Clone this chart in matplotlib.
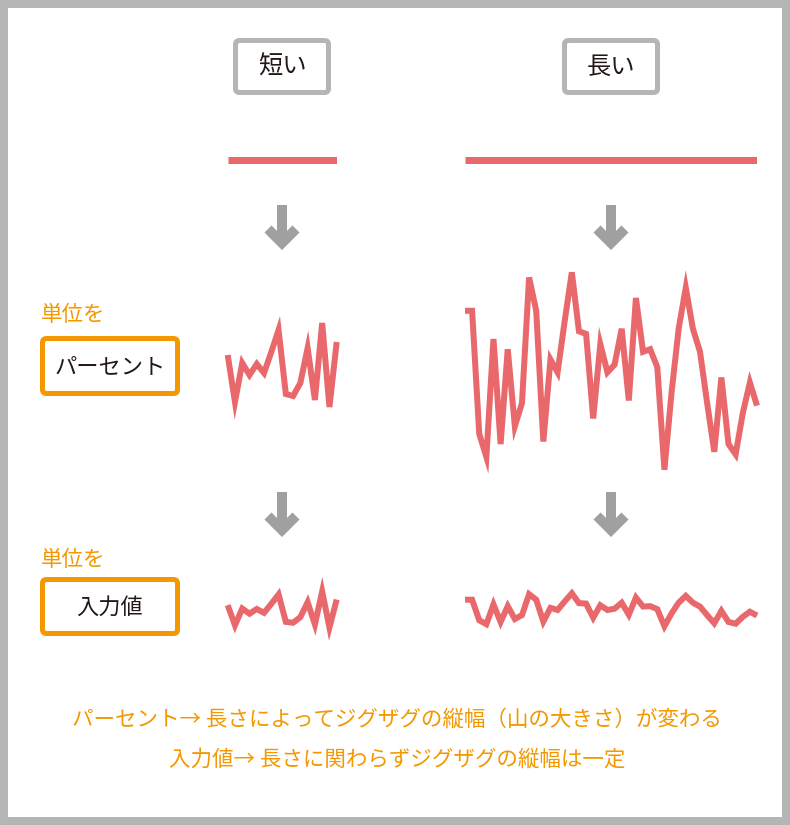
import matplotlib
matplotlib.use("Agg")
import matplotlib.pyplot as plt
from matplotlib.patches import FancyBboxPatch, Rectangle

plt.rcParams['font.family'] = ['Noto Sans CJK JP', 'DejaVu Sans']

# ---------------- data ----------------
column_titles = ["短い", "長い"]
row_unit_caption = "単位を"
row_labels = ["パーセント", "入力値"]
note_lines = ["パーセント→ 長さによってジグザグの縦幅（山の大きさ）が変わる",
              "入力値→ 長さに関わらずジグザグの縦幅は一定"]

# input values (common units) of the short and the long series
short_values = [65, 18, 57, 45, 56, 47, 68, 90, 26, 24, 37, 72, 20, 97, 13, 78]
long_values = [66, 66, 18, 9, 55, 14, 51, 21, 30, 79, 66, 15, 47, 42, 62, 81,
               58, 57, 24, 53, 42, 45, 59, 31, 71, 50, 51, 44, 4, 34, 59, 75,
               59, 50, 30, 11, 40, 14, 10, 26, 38, 29]

# ---------------- style / layout ----------------
W, H = 790, 825
RED = '#e8686c'
ORANGE = '#f39800'
GRAY_BORDER = '#b5b5b6'
GRAY_ARROW = '#a0a0a0'
TEXT = '#231815'
px = 72.0 / 100.0  # points per pixel

fig = plt.figure(figsize=(W / 100, H / 100), dpi=100)
fig.patch.set_facecolor('white')

overlay = fig.add_axes([0, 0, 1, 1])
overlay.set_xlim(0, W)
overlay.set_ylim(H, 0)
overlay.axis('off')

# outer border
overlay.add_patch(Rectangle((4, 4), W - 8, H - 8, fill=False,
                            edgecolor=GRAY_BORDER, lw=8 * px, joinstyle='miter'))


def box(x0, y0, x1, y1, color, lw_px=5):
    overlay.add_patch(FancyBboxPatch((x0, y0), x1 - x0, y1 - y0,
                                     boxstyle="round,pad=0,rounding_size=4",
                                     fill=True, facecolor='white',
                                     edgecolor=color, lw=lw_px * px))


def arrow(cx, ytop):
    overlay.plot([cx, cx], [ytop, ytop + 37], color=GRAY_ARROW,
                 lw=10 * px, solid_capstyle='butt')
    overlay.plot([cx - 14, cx, cx + 14], [ytop + 24, ytop + 38, ytop + 24],
                 color=GRAY_ARROW, lw=10 * px, solid_joinstyle='miter',
                 solid_capstyle='butt')


# column geometry (pixel extents of each series)
columns = [
    dict(values=short_values, x0=227.7, x1=336.7, cx=282,
         pct=(420.0, 1.0), inp=(633.0, 0.4286)),
    dict(values=long_values, x0=465.0, x1=757.0, cx=611,
         pct=(480.0, 2.564), inp=(628.0, 0.4286)),
]

for title, col in zip(column_titles, columns):
    cx = col['cx']
    # title box
    box(cx - 46.5, 40.5, cx + 46.5, 92.5, GRAY_BORDER)
    overlay.text(cx, 67, title, ha='center', va='center', fontsize=17.5,
                 color=TEXT)
    n = len(col['values'])
    idx = list(range(n))
    # length bar (drawn in the series' own x scale)
    bar_ax = fig.add_axes([col['x0'] / W, 0, (col['x1'] - col['x0']) / W, 1])
    bar_ax.set_xlim(0, n - 1)
    bar_ax.set_ylim(H, 0)
    bar_ax.axis('off')
    bar_ax.plot([0, n - 1], [159.5, 159.5], color=RED, lw=7 * px,
                solid_capstyle='butt')
    arrow(cx, 205)
    arrow(cx, 492)
    # zigzag rows
    for offset, scale in (col['pct'], col['inp']):
        ax = fig.add_axes([col['x0'] / W, 0, (col['x1'] - col['x0']) / W, 1])
        ax.set_xlim(0, n - 1)
        ax.set_ylim((offset - H) / scale, offset / scale)
        ax.axis('off')
        ax.patch.set_alpha(0)
        ax.plot(idx, col['values'], color=RED, lw=6 * px,
                solid_joinstyle='miter', solid_capstyle='butt', clip_on=False)

# row labels
for label, (ycap, y0, y1) in zip(row_labels, [(315, 338.5, 393.5), (560, 579.5, 633.5)]):
    overlay.text(41, ycap, row_unit_caption, ha='left', va='center',
                 fontsize=15.5, color=ORANGE)
    box(42.5, y0, 177.5, y1, ORANGE)
    overlay.text(110, (y0 + y1) / 2 + 1, label, ha='center', va='center',
                 fontsize=16, color=TEXT)

# notes
for line, y in zip(note_lines, [720, 760]):
    overlay.text(397, y, line, ha='center', va='center', fontsize=15.5,
                 color=ORANGE)

fig.savefig('out.png', dpi=100)
